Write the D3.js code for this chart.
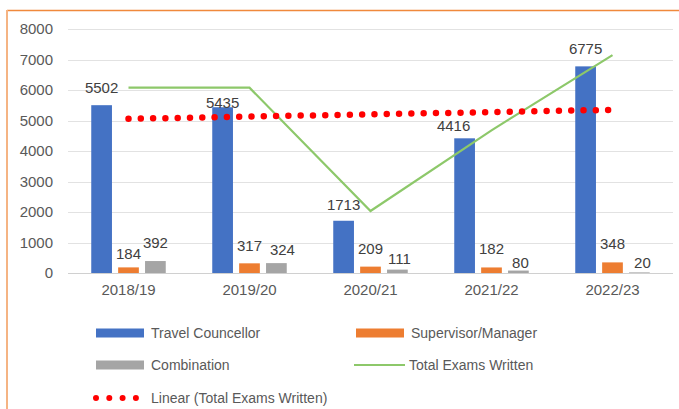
<!DOCTYPE html>
<html>
<head>
<meta charset="utf-8">
<script src="https://cdn.jsdelivr.net/npm/d3@7"></script>
<style>
  body { margin: 0; background: #fff; }
  text { font-family: "Liberation Sans", Arial, sans-serif; }
</style>
</head>
<body>
<div id="chart"></div>
<script>
var width = 679;
var height = 409;

// data
var years = ["2018/19", "2019/20", "2020/21", "2021/22", "2022/23"];
var travelCouncellor = [5502, 5435, 1713, 4416, 6775];
var supervisorManager = [184, 317, 209, 182, 348];
var combination = [392, 324, 111, 80, 20];
var totalExams = [6078, 6076, 2033, 4678, 7143];
var trendEnds = [5055, 5350];   // Linear (Total Exams Written), first and last year
var yTicks = [0, 1000, 2000, 3000, 4000, 5000, 6000, 7000, 8000];

var seriesNames = ["Travel Councellor", "Supervisor/Manager", "Combination"];
var seriesColors = ["#4472c4", "#ed7d31", "#a5a5a5"];
var barSeries = [travelCouncellor, supervisorManager, combination];

// small hand nudges for the data labels (dx, dy from bar top)
var labelNudge = [
    [[0, -12], [0, 1], [0, -11], [-11, -7], [0, -12]],
    [[0, -8], [0, -12], [0, -13], [0, -13], [0, -13]],
    [[0, -13], [6, -8], [2, -6], [2, -3], [3, -4]]
];

var svg = d3.select("#chart").append("svg")
    .attr("width", width)
    .attr("height", height);

svg.append("rect").attr("width", width).attr("height", height).attr("fill", "#fff");

// frame
svg.append("line").attr("x1", 7).attr("x2", width).attr("y1", 10.5).attr("y2", 10.5)
    .attr("stroke", "#f0893c").attr("stroke-width", 1.5);
svg.append("line").attr("x1", 7).attr("x2", 7).attr("y1", 10).attr("y2", height)
    .attr("stroke", "#f5b483").attr("stroke-width", 2);

var x0 = d3.scaleBand().domain(years).range([68, 673]);
var x1 = d3.scaleBand().domain(seriesNames).range([0, 74.5]).paddingInner(0.23);
var groupOff = (x0.bandwidth() - 74.5) / 2;
var y = d3.scaleLinear().domain([0, 8000]).range([273, 29]);

// gridlines
svg.append("g").selectAll("line").data(yTicks).enter().append("line")
    .attr("x1", 68).attr("x2", 673)
    .attr("y1", d => Math.round(y(d)) + 0.5).attr("y2", d => Math.round(y(d)) + 0.5)
    .attr("stroke", d => d === 0 ? "#d0d0d0" : "#e2e2e2")
    .attr("stroke-width", 1);

// y axis labels
var yAxis = d3.axisLeft(y).tickValues(yTicks).tickSize(0).tickPadding(0).tickFormat(d3.format("d"));
svg.append("g").attr("transform", "translate(53,0)").call(yAxis)
    .call(g => g.select(".domain").remove())
    .selectAll("text")
    .attr("fill", "#595959")
    .style("font-size", "15px")
    .style("font-family", "Liberation Sans, Arial, sans-serif");

// x axis labels
var xAxis = d3.axisBottom(x0).tickSize(0).tickPadding(0);
svg.append("g").attr("transform", "translate(0,284)").call(xAxis)
    .call(g => g.select(".domain").remove())
    .selectAll("text")
    .attr("fill", "#595959")
    .style("font-size", "15px")
    .style("font-family", "Liberation Sans, Arial, sans-serif");

// bars
barSeries.forEach(function(vals, s) {
    svg.append("g").selectAll("rect").data(vals).enter().append("rect")
        .attr("x", (d, i) => x0(years[i]) + groupOff + x1(seriesNames[s]))
        .attr("width", x1.bandwidth())
        .attr("y", d => y(d))
        .attr("height", d => y(0) - y(d))
        .attr("fill", seriesColors[s]);
});

// total line
var cx = i => x0(years[i]) + x0.bandwidth() / 2;
var line = d3.line().x((d, i) => cx(i)).y(d => y(d));
svg.append("path").datum(totalExams)
    .attr("d", line)
    .attr("fill", "none")
    .attr("stroke", "#8dc86a")
    .attr("stroke-width", 2.2);

// linear trend
svg.append("line")
    .attr("x1", cx(0)).attr("y1", y(trendEnds[0]))
    .attr("x2", cx(years.length - 1)).attr("y2", y(trendEnds[1]))
    .attr("stroke", "#ff0000")
    .attr("stroke-width", 6.5)
    .attr("stroke-linecap", "round")
    .attr("stroke-dasharray", "0 12.3");

// data labels
barSeries.forEach(function(vals, s) {
    svg.append("g").selectAll("text").data(vals).enter().append("text")
        .attr("x", (d, i) => x0(years[i]) + groupOff + x1(seriesNames[s]) + x1.bandwidth() / 2 + labelNudge[s][i][0])
        .attr("y", (d, i) => y(d) + labelNudge[s][i][1])
        .attr("text-anchor", "middle")
        .attr("fill", "#404040")
        .style("font-size", "15px")
        .text(d => d);
});

// legend
var legendItems = [
    { name: "Travel Councellor", type: "rect", color: seriesColors[0], x: 96, y: 333 },
    { name: "Supervisor/Manager", type: "rect", color: seriesColors[1], x: 356, y: 333 },
    { name: "Combination", type: "rect", color: seriesColors[2], x: 96, y: 365 },
    { name: "Total Exams Written", type: "line", color: "#8dc86a", x: 354, y: 365 },
    { name: "Linear (Total Exams Written)", type: "dots", color: "#ff0000", x: 96, y: 398 }
];
var leg = svg.append("g").selectAll("g").data(legendItems).enter().append("g")
    .attr("transform", d => "translate(" + d.x + "," + d.y + ")");
leg.filter(d => d.type === "rect").append("rect")
    .attr("x", 0).attr("y", -4.5).attr("width", 48).attr("height", 9)
    .attr("fill", d => d.color);
leg.filter(d => d.type === "line").append("line")
    .attr("x1", 0).attr("x2", 51).attr("y1", 0).attr("y2", 0)
    .attr("stroke", d => d.color).attr("stroke-width", 2.2);
leg.filter(d => d.type === "dots").append("line")
    .attr("x1", 0).attr("x2", 40).attr("y1", 0).attr("y2", 0)
    .attr("stroke", d => d.color).attr("stroke-width", 6)
    .attr("stroke-linecap", "round")
    .attr("stroke-dasharray", "0 13.3");
leg.append("text")
    .attr("x", d => d.type === "line" ? 55 : 55)
    .attr("y", 5)
    .attr("fill", "#595959")
    .style("font-size", "14px")
    .text(d => d.name);
</script>
</body>
</html>
